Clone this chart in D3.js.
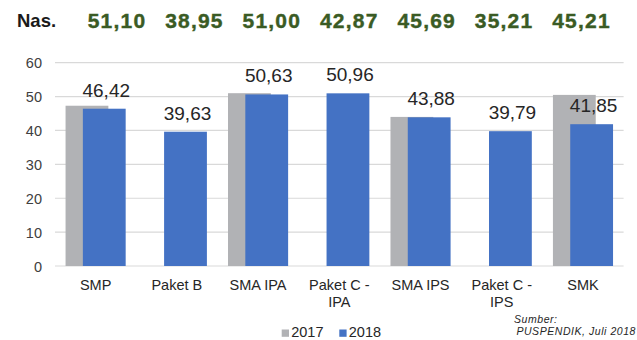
<!DOCTYPE html>
<html>
<head>
<meta charset="utf-8">
<script src="https://cdn.jsdelivr.net/npm/d3@7"></script>
<style>
  html, body { margin: 0; padding: 0; background: #fff; }
  svg { display: block; font-family: Arial, "Liberation Sans", sans-serif; }
</style>
</head>
<body>
<svg id="chart" width="637" height="340"></svg>
<script>
// Rata-rata nilai UN per jenjang, 2017 dan 2018
const categories = ["SMP", "Paket B", "SMA IPA", "Paket C - IPA", "SMA IPS", "Paket C - IPS", "SMK"];
const categoryLines = [["SMP"], ["Paket B"], ["SMA IPA"], ["Paket C -", "IPA"], ["SMA IPS"], ["Paket C -", "IPS"], ["SMK"]];
const values2017 = [47.3, null, 51.0, null, 44.0, null, 50.5];
const values2018 = [46.42, 39.63, 50.63, 50.96, 43.88, 39.79, 41.85];
const nationalValues = [51.10, 38.95, 51.00, 42.87, 45.69, 35.21, 45.21];
const yTicks = [0, 10, 20, 30, 40, 50, 60];
const seriesNames = ["2017", "2018"];
const seriesColors = ["#B1B2B5", "#4472C4"];

const fmt = v => d3.format(".2f")(v).replace(".", ",");

const svg = d3.select("#chart");
const plot = { left: 55, right: 623.6, top: 62.7, bottom: 266 };

const x = d3.scaleBand().domain(categories).range([plot.left, plot.right]).paddingInner(0).paddingOuter(0);
const y = d3.scaleLinear().domain([0, 60]).range([plot.bottom, plot.top]);

// gridlines
svg.append("g")
  .selectAll("line")
  .data(yTicks)
  .join("line")
  .attr("x1", plot.left).attr("x2", plot.right)
  .attr("y1", d => y(d)).attr("y2", d => y(d))
  .attr("stroke", "#D9D9D9").attr("stroke-width", 1.2);

// y axis labels
const yAxis = d3.axisLeft(y).tickValues(yTicks).tickSize(0).tickPadding(0).tickFormat(d3.format("d"));
const yg = svg.append("g").attr("transform", `translate(42,0)`).call(yAxis);
yg.select(".domain").remove();
yg.selectAll("text")
  .attr("font-size", "14.5px").attr("fill", "#404040")
  .attr("font-family", "Arial, 'Liberation Sans', sans-serif")
  .attr("dy", "0.36em");

// clustered bars with overlap: 2017 behind, 2018 in front
const bw = x.bandwidth();
const groupW = bw * 0.74;
const barW = bw * 0.527;
const shift = groupW - barW;
const groupStart = c => x(c) + (bw - groupW) / 2;

svg.append("g")
  .selectAll("rect")
  .data(categories.map((c, i) => ({ c, v: values2017[i] })).filter(d => d.v != null))
  .join("rect")
  .attr("x", d => groupStart(d.c))
  .attr("width", barW)
  .attr("y", d => y(d.v))
  .attr("height", d => y(0) - y(d.v))
  .attr("fill", seriesColors[0]);

const b18 = categories.map((c, i) => ({ c, v: values2018[i] }));
svg.append("g")
  .selectAll("rect")
  .data(b18)
  .join("rect")
  .attr("x", d => groupStart(d.c) + shift)
  .attr("width", barW)
  .attr("y", d => y(d.v))
  .attr("height", d => y(0) - y(d.v))
  .attr("fill", seriesColors[1]);

// data labels for 2018
svg.append("g")
  .selectAll("text")
  .data(b18)
  .join("text")
  .attr("x", d => groupStart(d.c) + shift + barW / 2 + 2)
  .attr("y", d => y(d.v) - 12)
  .attr("text-anchor", "middle")
  .attr("font-size", "19px")
  .attr("fill", "#262626")
  .text(d => fmt(d.v));

// category labels
const xl = svg.append("g")
  .selectAll("text")
  .data(categories.map((c, i) => ({ c, lines: categoryLines[i] })))
  .join("text")
  .attr("x", d => x(d.c) + bw / 2)
  .attr("y", 290)
  .attr("text-anchor", "middle")
  .attr("font-size", "14.5px")
  .attr("fill", "#262626");
xl.selectAll("tspan")
  .data(d => d.lines)
  .join("tspan")
  .attr("x", function () { return d3.select(this.parentNode).attr("x"); })
  .attr("dy", (d, i) => i === 0 ? 0 : 16.5)
  .text(d => d);

// national averages row
svg.append("text")
  .attr("x", 17).attr("y", 26.7)
  .attr("font-size", "18.5px").attr("font-weight", "bold").attr("fill", "#1a1a1a")
  .text("Nas.");

const xn = d3.scalePoint().domain(categories).range([117, 581.5]);
svg.append("g")
  .selectAll("text")
  .data(categories.map((c, i) => ({ c, v: nationalValues[i] })))
  .join("text")
  .attr("x", d => xn(d.c))
  .attr("y", 28.3)
  .attr("text-anchor", "middle")
  .attr("font-size", "21px").attr("font-weight", "bold")
  .attr("letter-spacing", "1.2px")
  .attr("fill", "#3A5B24")
  .attr("stroke", "#3A5B24").attr("stroke-width", 0.4)
  .text(d => fmt(d.v));

// legend
const legendX = [281.7, 339.3];
const lg = svg.append("g")
  .selectAll("g")
  .data(seriesNames)
  .join("g")
  .attr("transform", (d, i) => `translate(${legendX[i]},0)`);
lg.append("rect").attr("x", 0).attr("y", 329.5).attr("width", 7.3).attr("height", 7.3)
  .attr("fill", (d, i) => seriesColors[i]);
lg.append("text").attr("x", 9.5).attr("y", 337.2)
  .attr("font-size", "14.5px").attr("fill", "#262626").text(d => d);

// source note
const src = svg.append("g").attr("font-size", "10.5px").attr("font-style", "italic")
  .attr("letter-spacing", "0.55px").attr("fill", "#262626");
src.append("text").attr("x", 514).attr("y", 322.5).text("Sumber:");
src.append("text").attr("x", 636).attr("y", 334.5).attr("text-anchor", "end").text("PUSPENDIK, Juli 2018");
</script>
</body>
</html>
